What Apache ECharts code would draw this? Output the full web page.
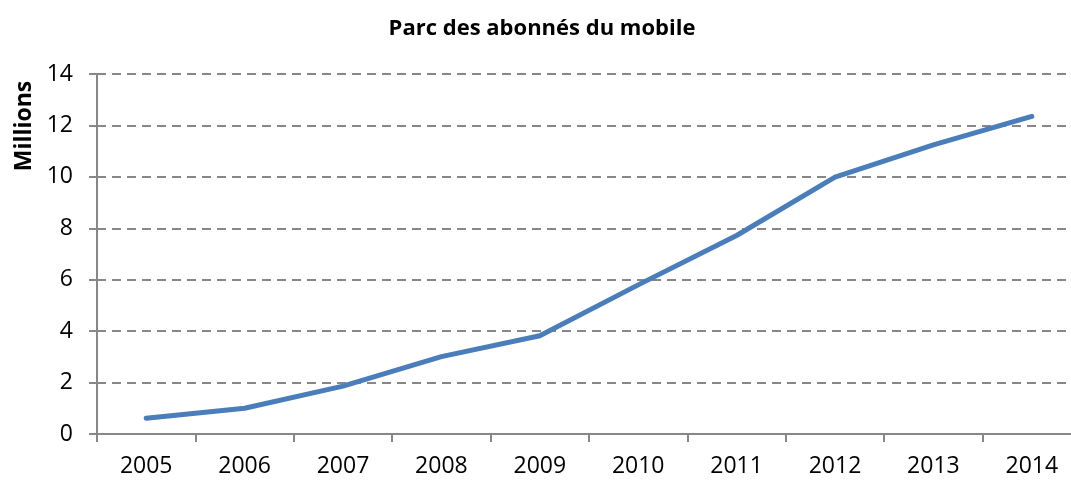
<!DOCTYPE html>
<html>
<head>
<meta charset="utf-8">
<script src="https://cdn.jsdelivr.net/npm/echarts@6/dist/echarts.min.js"></script>
<style>
  html, body { margin: 0; padding: 0; background: #fff; }
  #chart { width: 1071px; height: 481px; }
</style>
</head>
<body>
<div id="chart"></div>
<script>
// data (millions of subscribers)
const years = ['2005', '2006', '2007', '2008', '2009', '2010', '2011', '2012', '2013', '2014']
const subscribers = [0.61, 1.0, 1.86, 3.01, 3.82, 5.8, 7.72, 9.99, 11.24, 12.35]
const yTicks = { min: 0, max: 14, interval: 2 }

const chart = echarts.init(document.getElementById('chart'))
const gray = '#878787'
const font = '"Open Sans", "Liberation Sans", sans-serif'

const option = {
  animation: false,
  title: {
    text: 'Parc des abonnés du mobile',
    left: 537,
    textAlign: 'center',
    top: 13,
    textStyle: { fontFamily: font, fontWeight: 'bold', fontSize: 22, color: '#000' },
  },
  graphic: [
    {
      type: 'text',
      x: 13,
      y: 126,
      rotation: Math.PI / 2,
      style: {
        text: 'Millions',
        font: 'bold 23px ' + font,
        fill: '#000',
        textAlign: 'center',
        textVerticalAlign: 'top',
      },
    },
  ],
  grid: {
    left: 97,
    top: 74,
    width: 984,
    height: 360,
    containLabel: false,
    outerBoundsMode: 'none',
  },
  xAxis: {
    type: 'category',
    data: years,
    boundaryGap: true,
    axisLine: { lineStyle: { color: gray, width: 2 } },
    axisTick: { show: true, length: 8, lineStyle: { color: gray, width: 2 } },
    axisLabel: { fontFamily: font, fontSize: 23, color: '#000', margin: 21 },
  },
  yAxis: {
    type: 'value',
    min: yTicks.min,
    max: yTicks.max,
    interval: yTicks.interval,
    axisLine: { show: true, lineStyle: { color: gray, width: 2 } },
    axisTick: { show: true, length: 8, lineStyle: { color: gray, width: 2 } },
    axisLabel: { fontFamily: font, fontSize: 23, color: '#000', margin: 24 },
    splitLine: { lineStyle: { color: gray, width: 2, type: [9, 6] } },
  },
  series: [
    {
      type: 'line',
      data: subscribers,
      symbol: 'none',
      lineStyle: { color: '#4A7EBB', width: 5, cap: 'round', join: 'round' },
    },
  ],
}
chart.setOption(option)
</script>
</body>
</html>
